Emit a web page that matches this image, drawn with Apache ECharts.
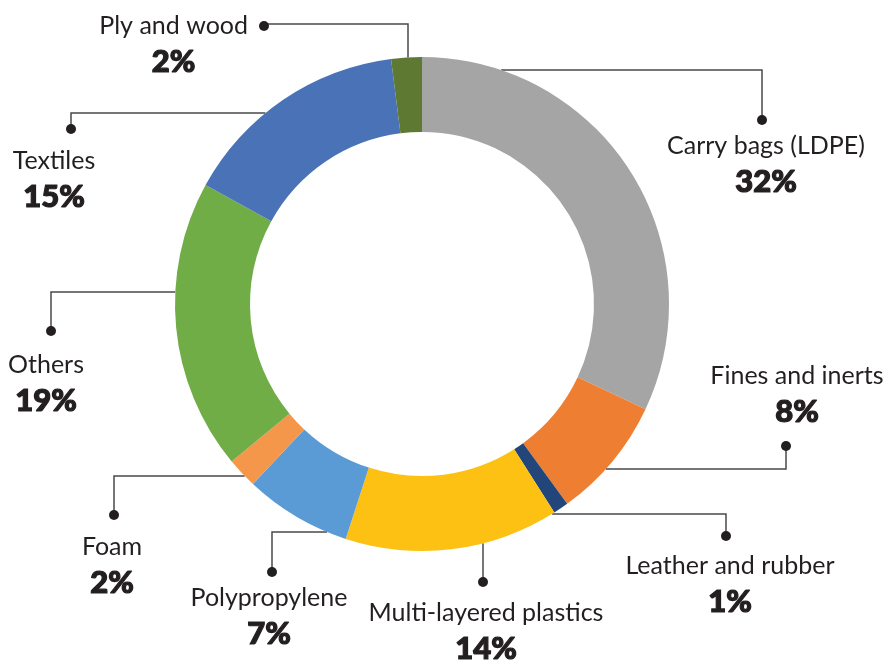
<!DOCTYPE html>
<html>
<head>
<meta charset="utf-8">
<script src="https://cdn.jsdelivr.net/npm/echarts@6/dist/echarts.min.js"></script>
<style>
  html, body { margin: 0; padding: 0; background: #ffffff; }
  #chart { width: 888px; height: 665px; }
</style>
</head>
<body>
<div id="chart"></div>
<script>
// Composition of the plastic waste stream, share by type (%)
const categories = ['Carry bags (LDPE)', 'Fines and inerts', 'Leather and rubber', 'Multi-layered plastics',
  'Polypropylene', 'Foam', 'Others', 'Textiles', 'Ply and wood'];
const shares = [32, 8, 1, 14, 7, 2, 19, 15, 2];

const sliceColors = ['#A5A5A5', '#EE7F32', '#23467A', '#FDC114', '#5B9BD5', '#F5974A', '#70AD47', '#4A72B6', '#5E7A32'];

// ring geometry in px
const CX = 422, CY = 304, R_IN = 172, R_OUT = 247;

const INK = '#231F20';
const LINE = '#4A4A4A';
const NAME_LH = 36, PCT_LH = 36, DOT = 10;

// callouts: dot centre, leader run ('h' = horizontal run at y, 'v' = vertical run at x),
// text offset from the dot, and dot-to-text distance
const callouts = [
  { dot: [762, 120], run: 'h', at: 70,  shift: 4,   gap: 26, side: 'below' },
  { dot: [786, 446], run: 'h', at: 469, shift: 11,  gap: 34, side: 'above' },
  { dot: [726, 536], run: 'h', at: 514, shift: 4,   gap: 30, side: 'below' },
  { dot: [483, 582], run: 'v', at: 483, shift: 3,   gap: 31, side: 'below' },
  { dot: [272, 572], run: 'h', at: 532, shift: -3,  gap: 26, side: 'below' },
  { dot: [114, 515], run: 'h', at: 476, shift: -2,  gap: 32, side: 'below' },
  { dot: [51, 331],  run: 'h', at: 292, shift: -5,  gap: 34, side: 'below' },
  { dot: [71, 129],  run: 'h', at: 113, shift: -17, gap: 32, side: 'below' },
  { dot: [264, 24],  run: 'v', at: 408, shift: 0,   gap: 11, side: 'left' }
];

function dotRow(c) {
  if (c.side === 'below') return 2 * c.gap - NAME_LH;
  if (c.side === 'above') return 2 * c.gap - PCT_LH;
  return NAME_LH;
}

// leader polyline: from the ring edge to the dot
function leader(c) {
  const [dx, dy] = c.dot;
  if (c.run === 'h') {
    const half = Math.sqrt(Math.max(0, R_OUT * R_OUT - (c.at - CY) * (c.at - CY)));
    const rx = dx > CX ? CX + half : CX - half;
    return [[rx, c.at], [dx, c.at], [dx, dy]];
  }
  const half = Math.sqrt(Math.max(0, R_OUT * R_OUT - (c.at - CX) * (c.at - CX)));
  const ry = dy < CY ? CY - half : CY + half;
  return [[c.at, ry], [c.at, dy], [dx, dy]];
}

const rich = {
  name: { fontFamily: 'Lato', fontSize: 25, color: INK, lineHeight: NAME_LH, align: 'center', verticalAlign: 'middle' },
  pct: { fontFamily: 'Lato', fontWeight: 900, fontSize: 31, color: INK, lineHeight: PCT_LH,
    textBorderColor: INK, textBorderWidth: 1.2, align: 'center', verticalAlign: 'middle' }
};
callouts.forEach((c, i) => {
  rich['d' + i] = { width: DOT, height: DOT, borderRadius: DOT / 2, backgroundColor: INK,
    lineHeight: dotRow(c), verticalAlign: 'middle', align: 'center' };
  const sp = c.side === 'left' ? c.gap + DOT : Math.max(1, 2 * Math.abs(c.shift));
  rich['s' + i] = { width: sp, height: 1, lineHeight: 1, verticalAlign: 'middle', align: 'center' };
  rich['g' + i] = { width: c.gap, height: 1, lineHeight: 1, verticalAlign: 'middle', align: 'center' };
});

function labelText(p) {
  const i = p.dataIndex, c = callouts[i];
  const name = '{name|' + p.name + '}';
  const pct = '{pct|' + p.value + '%}';
  const d = '{d' + i + '|}', s = '{s' + i + '|}';
  if (c.side === 'left') return s + name + '{g' + i + '|}' + d + '\n' + pct;
  const row = c.shift >= 0 ? d + s : s + d;
  if (c.side === 'above') return name + '\n' + pct + '\n' + row;
  return row + '\n' + name + '\n' + pct;
}

const chart = echarts.init(document.getElementById('chart'), null, { renderer: 'canvas' });
chart.setOption({
  backgroundColor: '#ffffff',
  animation: false,
  color: sliceColors,
  series: [{
    type: 'pie',
    center: [CX, CY],
    radius: [R_IN, R_OUT],
    startAngle: 90,
    clockwise: true,
    avoidLabelOverlap: false,
    minShowLabelAngle: 0,
    silent: true,
    emphasis: { disabled: true },
    itemStyle: { borderWidth: 0 },
    label: {
      show: true,
      position: 'outside',
      overflow: 'none',
      formatter: labelText,
      rich: rich
    },
    labelLine: {
      show: true,
      smooth: false,
      lineStyle: { color: LINE, width: 1.5 }
    },
    labelLayout: function (params) {
      const c = callouts[params.dataIndex];
      const [dx, dy] = c.dot;
      const out = { align: 'center', labelLinePoints: leader(c) };
      if (c.side === 'below') {
        out.x = dx + c.shift; out.y = dy - dotRow(c) / 2; out.verticalAlign = 'top';
      } else if (c.side === 'above') {
        out.x = dx + c.shift; out.y = dy + dotRow(c) / 2; out.verticalAlign = 'bottom';
      } else {
        out.x = dx + DOT / 2 - params.labelRect.width / 2; out.y = dy - NAME_LH / 2 + 2; out.verticalAlign = 'top';
      }
      return out;
    },
    data: categories.map((name, i) => ({ name: name, value: shares[i] }))
  }]
});
</script>
</body>
</html>
